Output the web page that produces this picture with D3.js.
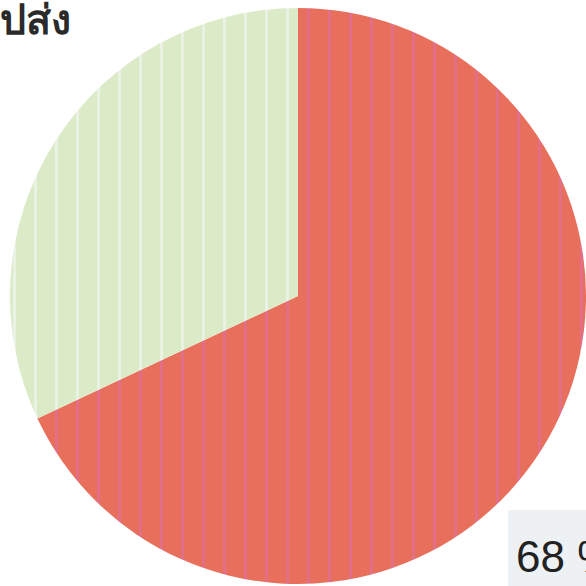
<!DOCTYPE html>
<html>
<head>
<meta charset="utf-8">
<script src="https://cdn.jsdelivr.net/npm/d3@7"></script>
<style>
  body { margin: 0; background: #fff; overflow: hidden; }
</style>
</head>
<body>
<div id="pie"></div>
<script>
// data
var categories = ["68 %", "32 %"];
var values = [68, 32];
var colours = ["#e86f5b", "#dcebc7"];
var stripe_colours = ["#e2709a", "#eef6f0"];
var title = "ปส่ง";

var view_width = 586;
var view_height = 586;
var cx = 298, cy = 296, radius = 288;

var svg = d3.select("#pie")
    .append("svg")
        .attr("width", view_width)
        .attr("height", view_height);

// scanned look: faint vertical stripes over each slice
var defs = svg.append("defs");
categories.forEach(function(c, i) {
    var p = defs.append("pattern")
        .attr("id", "stripe" + i)
        .attr("patternUnits", "userSpaceOnUse")
        .attr("width", 21)
        .attr("height", 10);
    p.append("rect")
        .attr("width", 21).attr("height", 10)
        .attr("fill", colours[i]);
    p.append("rect")
        .attr("x", 9).attr("width", 3).attr("height", 10)
        .attr("fill", stripe_colours[i])
        .attr("opacity", 0.7);
});

var pie = d3.pie()
    .sort(null)
    .value(function(d) { return d; });

var arc = d3.arc()
    .innerRadius(0)
    .outerRadius(radius);

var g = svg.append("g")
    .attr("transform", "translate(" + cx + "," + cy + ")");

g.selectAll(".slice")
    .data(pie(values))
    .enter()
    .append("path")
        .attr("class", "slice")
        .attr("d", arc)
        .attr("fill", function(d, i) { return "url(#stripe" + i + ")"; });

svg.append("text")
    .attr("x", 0)
    .attr("y", 34)
    .attr("font-family", "'Noto Sans', sans-serif")
    .attr("font-size", 41)
    .attr("font-weight", 600)
    .attr("fill", "#2a2a2a")
    .text(title);

// label box for the big slice
svg.append("rect")
    .attr("x", 508)
    .attr("y", 510)
    .attr("width", 90)
    .attr("height", 90)
    .attr("fill", "#eef1f3");

svg.append("text")
    .attr("x", 516)
    .attr("y", 572)
    .attr("font-family", "'Liberation Sans', Arial, sans-serif")
    .attr("font-size", 44)
    .attr("fill", "#222")
    .text(categories[0]);
</script>
</body>
</html>
